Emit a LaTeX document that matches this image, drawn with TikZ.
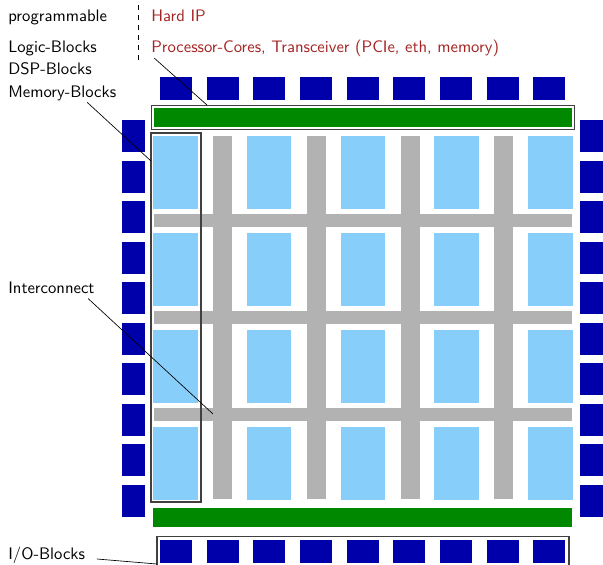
\documentclass[tikz,border=0pt]{standalone}

\definecolor{iocol}{RGB}{0,0,170}
\definecolor{hipgreen}{RGB}{0,136,0}
\definecolor{logiccol}{RGB}{135,206,250}
\definecolor{wirecol}{RGB}{178,178,178}
\definecolor{hipred}{RGB}{165,35,35}

\begin{document}
\begin{tikzpicture}[x=0.6pt,y=-0.6pt,font=\sffamily,
    lbl/.style={anchor=base west,inner sep=0pt},
    hip/.style={lbl,text=hipred},
    frame/.style={draw=black!75,line width=0.7pt}]
    \useasboundingbox (0,0) rectangle (603,564);

    % Legende
    \node[lbl] (prog)  at (8,21)  {programmable};
    \node[hip] (hard)  at (151,21) {Hard IP};
    \node[lbl] (logic) at (8,52)  {Logic-Blocks};
    \node[lbl] (dsp)   at (8,74.5) {DSP-Blocks};
    \node[lbl] (mem)   at (8,97)  {Memory-Blocks};
    \node[hip] (proc)  at (151,52) {Processor-Cores, Transceiver (PCIe, eth, memory)};
    \node[lbl] (inter) at (8,293) {Interconnect};
    \node[lbl] (io)    at (8,559) {I/O-Blocks};
    \draw[dashed,thin] (138,5) -- (138,63);

    % I/O-Blocks oben, unten, links, rechts
    \foreach \i in {0,...,8} {
        \fill[iocol] (160+46.67*\i,77) rectangle ++(32,23);
        \fill[iocol] (160+46.67*\i,539.5) rectangle ++(32,23);
    }
    \foreach \j in {0,...,9} {
        \fill[iocol] (122,120+40.5*\j) rectangle ++(23,32);
        \fill[iocol] (580,120+40.5*\j) rectangle ++(23,32);
    }
    \draw[frame] (157,536.5) rectangle (569,567);

    % Hard IP
    \draw[frame] (151.5,105.5) rectangle (574.5,129.5);
    \fill[hipgreen] (153.5,108) rectangle (572,127);
    \fill[hipgreen] (153,508) rectangle (572,527);

    % Interconnect
    \foreach \j in {0,1,2}
        \fill[wirecol] (154,214+97*\j) rectangle ++(418,13);
    \foreach \i in {0,...,3}
        \fill[wirecol] (213+93.75*\i,136) rectangle ++(19,363);

    % Logic-Blocks
    \foreach \i in {0,...,4}
        \foreach \j in {0,...,3}
            \fill[logiccol] (153+93.75*\i,136+97*\j) rectangle ++(44.5,73);
    \draw[frame] (151,133) rectangle (201,502);

    % Zuordnung
    \coordinate (hiptop) at (207,105);
    \coordinate (memleft) at (151,161);
    \coordinate (cross) at (213,414);
    \coordinate (iocorner) at (157,564);
    \draw[thin] ([xshift=2pt,yshift=-1pt]proc.south west) -- (hiptop);
    \draw[thin] ([xshift=15pt,yshift=-1pt]mem.south) -- (memleft);
    \draw[thin] ([xshift=22pt,yshift=-3pt]inter.south) -- (cross);
    \draw[thin] ([xshift=7pt]io.base east) -- (iocorner);
\end{tikzpicture}
\end{document}
